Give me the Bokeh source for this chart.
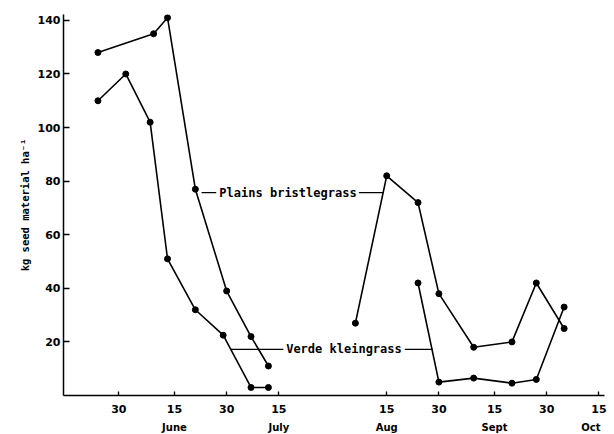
import numpy as np
import pandas as pd
from bokeh.plotting import figure
from bokeh.layouts import column
from bokeh.models import Range1d, FixedTicker, Label
from bokeh.core.properties import value
from bokeh.embed import file_html
from bokeh.resources import INLINE

# ---- data (dates as month-day, values in kg seed material per ha) ----
tick_dates = ["05-30", "06-15", "06-30", "07-15", "08-15", "08-30", "09-15", "09-30", "10-15"]
tick_labels = ["30", "15", "30", "15", "15", "30", "15", "30", "15"]
month_dates = ["06-15", "07-15", "08-15", "09-15", "10-15"]
month_labels = ["June", "July", "Aug", "Sept", "Oct"]
y_ticks = [20, 40, 60, 80, 100, 120, 140]

plains_dates = ["05-24", "06-09", "06-13", "06-21", "06-30", "07-07", "07-12",
                "08-06", "08-15", "08-24", "08-30", "09-09", "09-20", "09-27", "10-05"]
plains_values = [128, 135, 141, 77, 39, 22, 11, 27, 82, 72, 38, 18, 20, 42, 25]

verde_dates = ["05-24", "06-01", "06-08", "06-13", "06-21", "06-29", "07-07", "07-12",
               "08-24", "08-30", "09-09", "09-20", "09-27", "10-05"]
verde_values = [110, 120, 102, 51, 32, 22.5, 3, 3, 42, 5, 6.5, 4.6, 6, 33]


def doy(dates):
    return pd.to_datetime(["2001-" + d for d in dates]).dayofyear.to_numpy().astype(float)


def split_runs(x, y, gap=20):
    x = np.asarray(x, float)
    y = np.asarray(y, float)
    cuts = np.where(np.diff(x) > gap)[0] + 1
    return [list(a) for a in np.split(x, cuts)], [list(b) for b in np.split(y, cuts)]


px, py = doy(plains_dates), np.array(plains_values, float)
vx, vy = doy(verde_dates), np.array(verde_values, float)

W = 614
BL, BR = 63, 10
xr = Range1d(134.1, 289.6)

p = figure(width=W, height=418, x_range=xr, y_range=Range1d(0, 142.2),
           output_backend="svg", toolbar_location=None,
           min_border_left=BL, min_border_right=BR, min_border_top=14, min_border_bottom=23)
p.outline_line_color = None
p.xgrid.visible = False
p.ygrid.visible = False
p.background_fill_color = "white"

for xs_, ys_ in [split_runs(px, py), split_runs(vx, vy)]:
    p.multi_line(xs_, ys_, line_color="black", line_width=1.6)
p.scatter(px, py, size=6, color="black")
p.scatter(vx, vy, size=6, color="black")

# ---- axes ----
xa = p.xaxis[0]
xa.ticker = FixedTicker(ticks=list(doy(tick_dates)))
xa.major_label_overrides = {float(t): l for t, l in zip(doy(tick_dates), tick_labels)}
xa.major_tick_in = 4
xa.major_tick_out = 0
xa.minor_tick_line_color = None
xa.axis_line_width = 1.5
xa.major_tick_line_width = 1.3
xa.major_label_standoff = 9
xa.major_label_text_font = "DejaVu Sans"
xa.major_label_text_font_style = "bold"
xa.major_label_text_font_size = "11px"
xa.major_label_text_color = "black"

ya = p.yaxis[0]
ya.ticker = FixedTicker(ticks=y_ticks)
ya.major_tick_in = 6
ya.major_tick_out = 0
ya.minor_tick_line_color = None
ya.axis_line_width = 1.5
ya.major_tick_line_width = 1.3
ya.major_label_standoff = 3
ya.major_label_text_font = "DejaVu Sans"
ya.major_label_text_font_style = "bold"
ya.major_label_text_font_size = "11px"
ya.major_label_text_color = "black"
ya.axis_label = "kg seed material ha\u207b\u00b9"
ya.axis_label_standoff = 4
ya.axis_label_text_font = "DejaVu Sans Mono"
ya.axis_label_text_font_style = "bold"
ya.axis_label_text_font_size = "10.5px"
ya.axis_label_text_color = "black"

# ---- series labels with leader lines ----
lab_font = dict(text_font="DejaVu Sans Mono", text_font_style="bold",
                text_font_size="12px", text_color="black", text_baseline="middle")
p.add_layout(Label(x=178.9, y=75.7, text="Plains bristlegrass", **lab_font))
p.add_layout(Label(x=198.1, y=17.2, text="Verde kleingrass", **lab_font))
p.segment(x0=[173.8, 219.0, 182.2, 232.2], y0=[75.7, 75.7, 17.2, 17.2],
          x1=[178.0, 226.0, 197.3, 240.2], y1=[75.7, 75.7, 17.2, 17.2],
          line_color="black", line_width=1.2)

# ---- month names: a thin strip under the axis, same horizontal scale ----
m = figure(width=W, height=16, x_range=xr, y_range=Range1d(0, 1),
           output_backend="svg", toolbar_location=None,
           min_border_left=BL, min_border_right=BR, min_border_top=0, min_border_bottom=0)
m.axis.visible = False
m.xgrid.visible = False
m.ygrid.visible = False
m.outline_line_color = None
m.text(x=doy(month_dates), y=[0.44] * len(month_labels), text=month_labels,
       x_offset=[0, 0, 0, 0, -8],
       text_font=value("DejaVu Sans"), text_font_style="bold", text_font_size="10px",
       text_color="black", text_align="center", text_baseline="middle")

open("out.html", "w").write(file_html(column(p, m, spacing=0), INLINE))
